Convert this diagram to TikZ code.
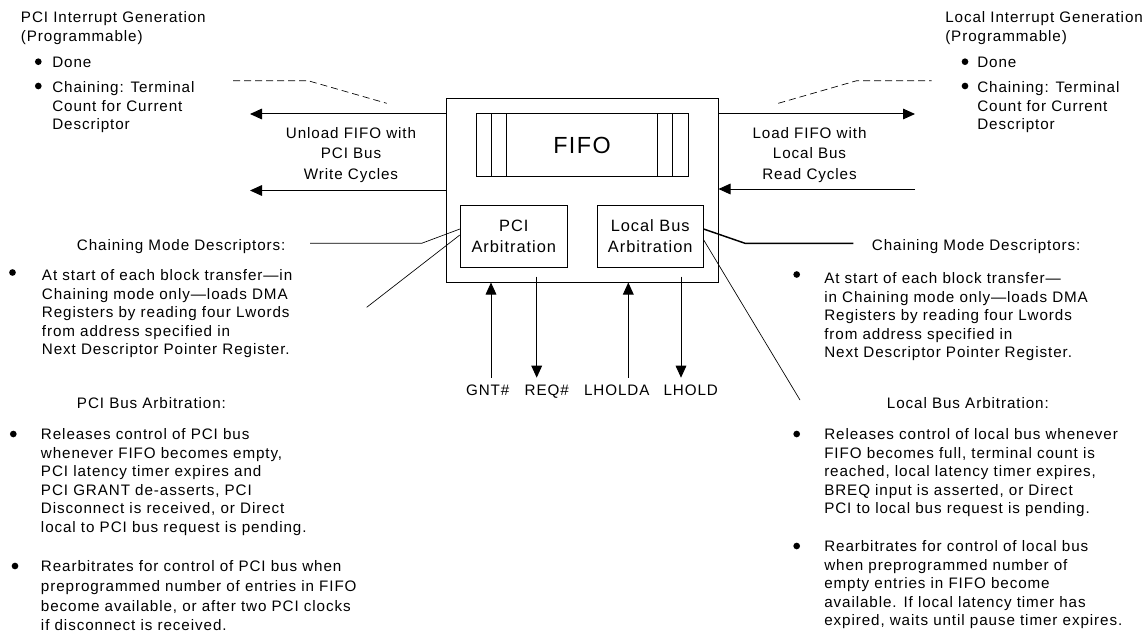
\documentclass[tikz,border=0pt]{standalone}
\usepackage{fontspec}
\setmainfont{Liberation Sans}[LetterSpace=6]
\usetikzlibrary{arrows.meta,positioning}

\begin{document}
\begin{tikzpicture}[x=0.75pt,y=-0.75pt]
        \tikzstyle{every node}+=[inner sep=0pt, font=\fontsize{11.4pt}{13.95pt}\selectfont]
        \tikzstyle{txt}=[anchor=north west, align=left]
        \tikzstyle{mid}=[anchor=north, align=center, font=\fontsize{11.4pt}{15.4pt}\selectfont]
        \tikzstyle{blk}=[draw, line width=0.75pt]
        \tikzstyle{arr}=[line width=0.75pt, -{Triangle[length=9pt,width=8pt]}]
        \tikzstyle{dot}=[fill, circle, minimum size=5pt]
        \tikzstyle{lead}=[line width=0.5pt]
        \useasboundingbox (0,0) rectangle (1146,642);
        % chip with FIFO and arbiters
        \node [blk, minimum width=204pt, minimum height=137.25pt] (dma) at (582,190.5) {};
        \node [blk, minimum width=159pt, minimum height=46.5pt, font=\fontsize{17.5pt}{20pt}\selectfont] (fifo) at (582,145) {FIFO};
        \foreach \x in {491,506.7,657.7,672.7}
            \draw [line width=0.75pt] (\x,114) -- (\x,176);
        \node [blk, minimum width=80.25pt, minimum height=46.5pt, align=center, font=\fontsize{12.3pt}{15.75pt}\selectfont] (pciarb) at (513.8,236.5) {PCI\\Arbitration};
        \node [blk, minimum width=79.5pt, minimum height=46.5pt, align=center, font=\fontsize{12.3pt}{15.75pt}\selectfont] (locarb) at (650.2,236.5) {Local Bus\\Arbitration};
        % data paths
        \coordinate (pciout1) at (250,114);
        \coordinate (pciout2) at (250,190.5);
        \coordinate (locout) at (915,114);
        \coordinate (locin) at (915,189);
        \draw [arr] (dma.west |- pciout1) -- (pciout1);
        \draw [arr] (dma.west |- pciout2) -- (pciout2);
        \draw [arr] (dma.east |- locout) -- (locout);
        \draw [arr] (locin) -- (dma.east |- locin);
        \node [mid] (unload) at (351,127) {Unload FIFO with\\PCI Bus\\Write Cycles};
        \node [mid] (load) at (809.5,127) {Load FIFO with\\Local Bus\\Read Cycles};
        % interrupt generation
        \node [txt] (pcigen) at (20.7,11.6) {PCI Interrupt Generation\\(Programmable)};
        \node [txt] (pcidone) at (52,56.3) {Done};
        \node [txt] (pcitc) at (52,81.3) {Chaining: Terminal\\Count for Current\\Descriptor};
        \node [dot] (pcib1) at (38.3,61.7) {};
        \node [dot] (pcib2) at (38.3,86) {};
        \node [txt] (locgen) at (945,11.6) {Local Interrupt Generation\\(Programmable)};
        \node [txt] (locdone) at (977,56.3) {Done};
        \node [txt] (loctc) at (977,81.3) {Chaining: Terminal\\Count for Current\\Descriptor};
        \node [dot] (locb1) at (965,61.7) {};
        \node [dot] (locb2) at (965,86) {};
        \draw [lead, dashed, dash pattern=on 5.25pt off 3pt] (233,80.7) -- (308,80.7) -- (386.7,103.3);
        \draw [lead, dashed, dash pattern=on 5.25pt off 3pt] (778.3,103.3) -- (856.7,80.7) -- (931.7,80.7);
        % chaining mode descriptors
        \node [anchor=base west] (pcicmd) at (76.7,250) {Chaining Mode Descriptors:};
        \node [anchor=base west] (loccmd) at (871.7,250) {Chaining Mode Descriptors:};
        \coordinate (pcistart) at (310,243.3);
        \coordinate (pcibend) at (421.7,243.3);
        \coordinate (pcilead) at (366.7,307.3);
        \coordinate (locbend) at (745,243.3);
        \coordinate (locend) at (853.3,243.3);
        \coordinate (loclead) at (800,400);
        \draw [lead] (pcistart) -- (pcibend) -- ([yshift=5.6pt]pciarb.west);
        \draw [lead] ([yshift=1.1pt]pciarb.west) -- (pcilead);
        \draw [line width=1.1pt] ([yshift=5.6pt]locarb.east) -- (locbend) -- (locend);
        \draw [lead] ([yshift=-2.6pt]locarb.east) -- (loclead);
        \node [txt] (pcidesc) at (41.7,269.3) {At start of each block transfer—in\\Chaining mode only—loads DMA\\Registers by reading four Lwords\\from address specified in\\Next Descriptor Pointer Register.};
        \node [dot] (pcib3) at (12.5,272.5) {};
        \node [txt] (locdesc) at (824,272.3) {At start of each block transfer—\\in Chaining mode only—loads DMA\\Registers by reading four Lwords\\from address specified in\\Next Descriptor Pointer Register.};
        \node [dot] (locb3) at (796.7,274.5) {};
        % bus arbitration
        \node [anchor=base west] (pcibusarb) at (76.7,408) {PCI Bus Arbitration:};
        \node [anchor=base west] (locbusarb) at (886.7,408) {Local Bus Arbitration:};
        \node [txt] (pcirel) at (40.7,428.3) {Releases control of PCI bus\\whenever FIFO becomes empty,\\PCI latency timer expires and\\PCI GRANT de-asserts, PCI\\Disconnect is received, or Direct\\local to PCI bus request is pending.};
        \node [dot] (pcib4) at (13.3,434) {};
        \node [txt, font=\fontsize{11.4pt}{14.9pt}\selectfont] (pcire) at (40.7,560) {Rearbitrates for control of PCI bus when\\preprogrammed number of entries in FIFO\\become available, or after two PCI clocks\\if disconnect is received.};
        \node [dot] (pcib5) at (15,566) {};
        \node [txt] (locrel) at (824,428.3) {Releases control of local bus whenever\\FIFO becomes full, terminal count is\\reached, local latency timer expires,\\BREQ input is asserted, or Direct\\PCI to local bus request is pending.};
        \node [dot] (locb4) at (796.7,434) {};
        \node [txt] (locre) at (824,540.3) {Rearbitrates for control of local bus\\when preprogrammed number of\\empty entries in FIFO become\\available. If local latency timer has\\expired, waits until pause timer expires.};
        \node [dot] (locb5) at (796.7,546) {};
        % handshake signals
        \node [anchor=base] (gnt) at (487.7,395.5) {GNT\#};
        \node [anchor=base] (req) at (546.7,395.5) {REQ\#};
        \node [anchor=base] (lholda) at (616.7,395.5) {LHOLDA};
        \node [anchor=base] (lhold) at (690.7,395.5) {LHOLD};
        \coordinate (gntin) at (491,377.7);
        \coordinate (reqsrc) at (536.7,276.7);
        \coordinate (reqout) at (536.7,377.7);
        \coordinate (lholdain) at (628.3,377.7);
        \coordinate (lholdsrc) at (681,276.7);
        \coordinate (lholdout) at (681,377.7);
        \draw [arr] (gntin) -- (gntin |- dma.south);
        \draw [arr] (reqsrc) -- (reqout);
        \draw [arr] (lholdain) -- (lholdain |- dma.south);
        \draw [arr] (lholdsrc) -- (lholdout);
\end{tikzpicture}
\end{document}
